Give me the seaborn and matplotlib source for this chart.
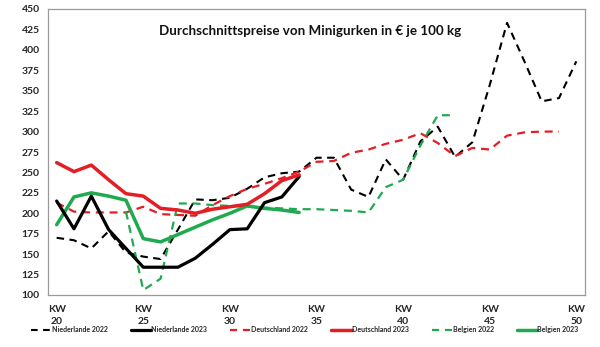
import numpy as np
import pandas as pd
import matplotlib
matplotlib.use("Agg")
import matplotlib.pyplot as plt
import seaborn as sns
from matplotlib.lines import Line2D

# ---- data ----
weeks_nl22 = list(range(20, 51))
nl_2022 = [170, 167, 157, 178, 152, 147, 144, 180, 217, 216, 219, 230, 244, 249, 251,
           268, 268, 229, 220, 266, 241, 288, 306, 269, 287, 357, 433, 386, 337, 341, 386]
weeks_nl23 = list(range(20, 35))
nl_2023 = [215, 181, 221, 180, 157, 134, 134, 134, 145, 162, 180, 181, 213, 220, 245]
weeks_de22 = list(range(20, 50))
de_2022 = [213, 202, 201, 201, 201, 208, 199, 198, 197, 210, 221, 230, 236, 243, 251,
           263, 264, 274, 278, 285, 290, 298, 286, 270, 280, 278, 295, 299, 300, 300]
weeks_de23 = list(range(20, 35))
de_2023 = [262, 251, 259, 241, 224, 221, 206, 204, 200, 205, 208, 211, 224, 240, 247]
weeks_be22 = list(range(24, 44))
be_2022 = [202, 106, 120, 212, 212, 210, 209, 208, 207, 206, 205, 205, 204, 203, 201,
           232, 241, 283, 320, 320]
weeks_be23 = list(range(20, 35))
be_2023 = [186, 220, 225, 221, 216, 169, 165, 174, 183, 192, 200, 209, 206, 204, 201]

series_names = ["Niederlande 2022", "Niederlande 2023", "Deutschland 2022",
                "Deutschland 2023", "Belgien 2022", "Belgien 2023"]
title = "Durchschnittspreise von Minigurken in \u20ac je 100 kg"
yticks = list(range(100, 451, 25))
xlabel_weeks = [20, 25, 30, 35, 40, 45, 50]

frames = []
for name, w, v in zip(series_names,
                      [weeks_nl22, weeks_nl23, weeks_de22, weeks_de23, weeks_be22, weeks_be23],
                      [nl_2022, nl_2023, de_2022, de_2023, be_2022, be_2023]):
    frames.append(pd.DataFrame({"KW": w, "Preis": v, "Serie": name}))
df = pd.concat(frames, ignore_index=True)

# ---- style ----
sns.set_style("white")
plt.rcParams["font.family"] = ["Lato", "DejaVu Sans"]

RED = "#E31E24"
GREEN = "#1FAA4F"
BLACK = "#000000"
styles = {
    "Niederlande 2022": dict(color=BLACK, lw=1.5, dashed=True),
    "Niederlande 2023": dict(color=BLACK, lw=2.3, dashed=False),
    "Deutschland 2022": dict(color=RED, lw=1.6, dashed=True),
    "Deutschland 2023": dict(color=RED, lw=2.5, dashed=False),
    "Belgien 2022": dict(color=GREEN, lw=1.6, dashed=True),
    "Belgien 2023": dict(color=GREEN, lw=2.5, dashed=False),
}
DASH = (3.6, 2.6)

fig = plt.figure(figsize=(6.0, 3.47), dpi=100)
ax = fig.add_axes([48/600, 1-295/347, (585-48)/600, (295-9)/347])

order = ["Niederlande 2022", "Deutschland 2022", "Belgien 2022",
         "Belgien 2023", "Niederlande 2023", "Deutschland 2023"]
for name in order:
    st = styles[name]
    sub = df[df["Serie"] == name]
    sns.lineplot(data=sub, x="KW", y="Preis", ax=ax, color=st["color"],
                 linewidth=st["lw"], legend=False, estimator=None, sort=True)
    line = ax.get_lines()[-1]
    if st["dashed"]:
        line.set_dashes(DASH)
    line.set_solid_joinstyle("round")

ax.set_xlim(19.5, 50.5)
ax.set_ylim(100, 450)
ax.set_xlabel("")
ax.set_ylabel("")

ax.set_yticks(yticks)
ax.set_yticklabels([str(t) for t in yticks], fontweight="bold", fontsize=7.5)
ax.tick_params(axis="y", length=3, width=0.8, color="#999999", pad=3)

ax.set_xticks(xlabel_weeks)
ax.set_xticklabels([f"KW\n{w}" for w in xlabel_weeks], fontweight="bold",
                   fontsize=7.5, linespacing=1.5, ha="center",
                   multialignment="center")
ax.tick_params(axis="x", which="major", length=0, pad=7)
ax.set_xticks(np.arange(19.5, 50.6, 1.0), minor=True)
ax.tick_params(axis="x", which="minor", length=3, width=0.8, color="#999999",
               direction="out")

for s in ["left", "right", "top", "bottom"]:
    ax.spines[s].set_visible(True)
    ax.spines[s].set_color("#9a9a9a")
    ax.spines[s].set_linewidth(0.9)

ax.text(0.488, 0.923, title, transform=ax.transAxes, ha="center", va="center",
        fontsize=9.6, fontweight="bold", color="#111111")

handles = []
for name in series_names:
    st = styles[name]
    h = Line2D([0], [0], color=st["color"], lw=st["lw"])
    if st["dashed"]:
        h.set_dashes((3.2, 2.6))
    handles.append(h)
leg = fig.legend(handles, series_names, loc="center", bbox_to_anchor=(0.508, 0.049),
                 ncol=6, frameon=False, prop={"size": 5.0, "weight": "bold"},
                 handlelength=3.0, handletextpad=0.0, columnspacing=3.3)

fig.savefig("out.png", dpi=100)
